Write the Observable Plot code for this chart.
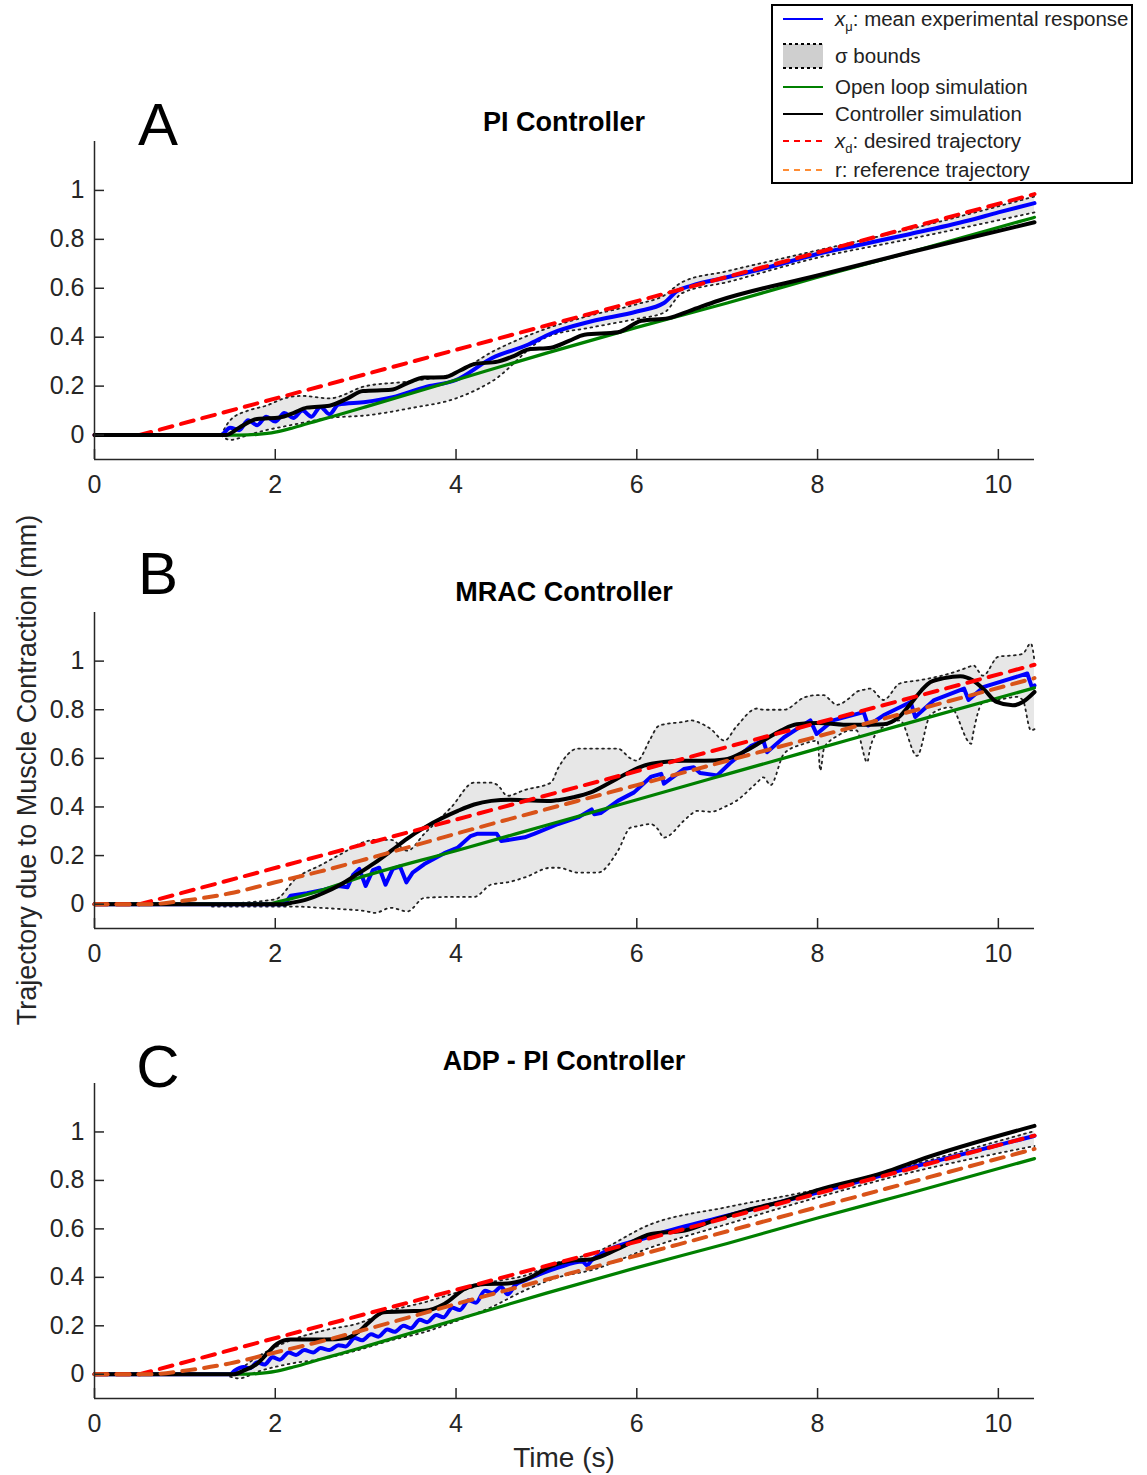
<!DOCTYPE html>
<html>
<head>
<meta charset="utf-8">
<script src="https://cdn.jsdelivr.net/npm/d3@7"></script>
<script src="https://cdn.jsdelivr.net/npm/@observablehq/plot@0.6"></script>
<style>
  html, body { margin: 0; padding: 0; background: #fff; }
  #wrap { position: relative; width: 1147px; height: 1475px; overflow: hidden; font-family: "Liberation Sans", Arial, sans-serif; }
  .panel { position: absolute; left: 0; }
  #overlay { position: absolute; left: 0; top: 0; pointer-events: none; }
</style>
</head>
<body>
<div id="wrap"></div>
<script>
// ---------- axes ----------
const xDomain = [0, 10.4];
const yDomain = [-0.1, 1.2];
const xTicks = [0, 2, 4, 6, 8, 10];
const yTicks = [0, 0.2, 0.4, 0.6, 0.8, 1];

// ---------- shared trajectories [t, value] ----------
const desired = [[0, 0], [0.5, 0], [10.4, 0.985]];
const reference = [[0, 0], [0.6, 0], [1.0, 0.015], [1.5, 0.045], [2.0, 0.09], [2.5, 0.135], [3.0, 0.185], [4.0, 0.29], [6.0, 0.49], [8.0, 0.69], [10.4, 0.93]];
const openLoopAC = [[0, 0], [1.6, 0], [1.8, 0.003], [2.0, 0.012], [2.2, 0.03], [2.5, 0.062], [2.72, 0.085], [3.0, 0.115], [4.0, 0.225], [5.0, 0.335], [6.0, 0.44], [7.0, 0.54], [8.0, 0.645], [9.0, 0.745], [10.4, 0.89]];
const openLoopB = [[0, 0], [1.9, 0], [2.05, 0.012], [2.17, 0.022], [2.4, 0.045], [2.91, 0.107], [4.0, 0.22], [5.0, 0.325], [6.0, 0.43], [7.0, 0.535], [8.0, 0.64], [9.0, 0.745], [10.4, 0.89]];

// ---------- Panel A: PI controller ----------
const piMean = [[0, 0], [1.4, 0], [1.5, 0.03], [1.6, 0.02], [1.7, 0.06], [1.8, 0.04], [1.9, 0.075], [2.0, 0.055], [2.1, 0.09], [2.2, 0.07], [2.3, 0.1], [2.4, 0.075], [2.5, 0.115], [2.6, 0.085], [2.7, 0.125], [3.0, 0.135], [3.3, 0.155], [3.65, 0.195], [4.0, 0.225], [4.4, 0.315], [4.8, 0.37], [5.05, 0.415], [5.5, 0.465], [6.0, 0.505], [6.3, 0.54], [6.45, 0.59], [6.6, 0.61], [7.0, 0.645], [7.5, 0.69], [8.0, 0.74], [8.5, 0.78], [9.0, 0.82], [9.67, 0.877], [10.0, 0.91], [10.4, 0.948]];
const piCtrl = [[0, 0], [1.45, 0], [1.6, 0.03], [1.8, 0.066], [2.05, 0.072], [2.2, 0.09], [2.35, 0.112], [2.6, 0.12], [2.8, 0.15], [2.97, 0.18], [3.28, 0.185], [3.45, 0.21], [3.65, 0.235], [3.87, 0.236], [4.05, 0.265], [4.2, 0.29], [4.46, 0.3], [4.65, 0.325], [4.8, 0.35], [5.05, 0.357], [5.25, 0.385], [5.42, 0.41], [5.79, 0.42], [6.05, 0.467], [6.35, 0.478], [6.6, 0.51], [6.9, 0.549], [8.0, 0.652], [9.0, 0.745], [10.4, 0.87]];
// [t, upper, lower]
const piSigma = [[1.4, 0, 0], [1.5, 0.06, -0.02], [1.7, 0.1, 0.0], [1.9, 0.12, 0.02], [2.1, 0.15, 0.035], [2.3, 0.16, 0.05], [2.6, 0.15, 0.07], [3.0, 0.2, 0.08], [3.5, 0.22, 0.11], [4.0, 0.255, 0.15], [4.4, 0.34, 0.22], [5.0, 0.435, 0.4], [5.5, 0.49, 0.44], [6.0, 0.535, 0.475], [6.3, 0.57, 0.5], [6.5, 0.625, 0.58], [7.0, 0.67, 0.625], [8.0, 0.755, 0.725], [9.0, 0.84, 0.8], [10.4, 0.975, 0.91]];

// ---------- Panel B: MRAC controller ----------
const mracMean = [[0, 0], [2.1, 0], [2.17, 0.035], [2.35, 0.045], [2.54, 0.06], [2.7, 0.075], [2.8, 0.07], [2.86, 0.12], [2.93, 0.145], [3.0, 0.075], [3.08, 0.14], [3.15, 0.15], [3.22, 0.08], [3.3, 0.145], [3.38, 0.155], [3.45, 0.09], [3.52, 0.13], [3.65, 0.165], [3.87, 0.21], [4.02, 0.233], [4.16, 0.28], [4.24, 0.29], [4.45, 0.29], [4.5, 0.26], [4.76, 0.275], [4.87, 0.29], [5.13, 0.33], [5.35, 0.357], [5.5, 0.39], [5.53, 0.37], [5.6, 0.375], [5.79, 0.425], [5.97, 0.46], [6.16, 0.525], [6.27, 0.536], [6.3, 0.496], [6.52, 0.556], [6.63, 0.563], [6.7, 0.54], [6.89, 0.53], [7.03, 0.58], [7.26, 0.65], [7.4, 0.673], [7.44, 0.625], [7.63, 0.687], [7.92, 0.756], [7.99, 0.7], [8.17, 0.756], [8.51, 0.79], [8.56, 0.735], [8.73, 0.777], [9.03, 0.832], [9.08, 0.77], [9.29, 0.84], [9.62, 0.887], [9.67, 0.84], [9.84, 0.894], [10.32, 0.949], [10.37, 0.894], [10.4, 0.9]];
const mracCtrl = [[0, 0], [2.1, 0], [2.17, 0.005], [2.35, 0.02], [2.54, 0.047], [2.72, 0.08], [2.91, 0.124], [3.1, 0.17], [3.28, 0.219], [3.46, 0.27], [3.65, 0.315], [3.85, 0.355], [4.02, 0.384], [4.2, 0.41], [4.39, 0.425], [4.6, 0.43], [4.76, 0.428], [5.05, 0.425], [5.13, 0.428], [5.3, 0.44], [5.49, 0.46], [5.7, 0.5], [5.9, 0.54], [6.08, 0.57], [6.3, 0.585], [6.52, 0.59], [6.75, 0.59], [6.97, 0.595], [7.2, 0.63], [7.4, 0.673], [7.6, 0.715], [7.77, 0.74], [8.0, 0.745], [8.36, 0.738], [8.6, 0.738], [8.73, 0.74], [8.9, 0.77], [9.03, 0.825], [9.15, 0.88], [9.25, 0.914], [9.4, 0.93], [9.58, 0.938], [9.72, 0.92], [9.85, 0.88], [9.98, 0.832], [10.16, 0.818], [10.27, 0.832], [10.4, 0.873]];
const mracSigma = [[1.3, 0.0, -0.01], [2.0, 0.02, -0.01], [2.24, 0.11, -0.01], [2.5, 0.16, -0.015], [2.72, 0.205, -0.02], [3.02, 0.26, -0.03], [3.1, 0.265, -0.036], [3.28, 0.265, -0.015], [3.46, 0.22, -0.03], [3.65, 0.29, 0.026], [3.95, 0.4, 0.03], [4.2, 0.5, 0.03], [4.39, 0.5, 0.081], [4.46, 0.49, 0.085], [4.57, 0.446, 0.09], [4.76, 0.47, 0.11], [5.05, 0.5, 0.15], [5.13, 0.56, 0.15], [5.35, 0.64, 0.13], [5.57, 0.64, 0.13], [5.79, 0.64, 0.219], [5.93, 0.6, 0.315], [6.0, 0.59, 0.32], [6.15, 0.68, 0.33], [6.23, 0.73, 0.31], [6.3, 0.74, 0.274], [6.52, 0.75, 0.343], [6.6, 0.756, 0.37], [6.67, 0.75, 0.384], [6.82, 0.72, 0.38], [6.97, 0.673, 0.4], [7.1, 0.73, 0.425], [7.33, 0.805, 0.5], [7.4, 0.8, 0.522], [7.48, 0.8, 0.49], [7.63, 0.8, 0.62], [7.85, 0.85, 0.66], [8.0, 0.86, 0.673], [8.03, 0.86, 0.55], [8.07, 0.86, 0.64], [8.14, 0.84, 0.673], [8.21, 0.82, 0.69], [8.36, 0.85, 0.715], [8.43, 0.873, 0.715], [8.55, 0.885, 0.584], [8.58, 0.887, 0.64], [8.69, 0.85, 0.72], [8.73, 0.84, 0.73], [8.91, 0.908, 0.756], [9.1, 0.92, 0.61], [9.25, 0.93, 0.78], [9.47, 0.95, 0.81], [9.7, 0.98, 0.66], [9.72, 0.983, 0.7], [9.83, 0.94, 0.83], [10.0, 1.018, 0.84], [10.2, 1.025, 0.853], [10.27, 1.03, 0.84], [10.36, 1.073, 0.715], [10.4, 1.0, 0.72]];

// ---------- Panel C: ADP - PI controller ----------
const adpMean = [[0, 0], [1.5, 0], [1.55, 0.015], [1.65, 0.03], [1.72, 0.025], [1.8, 0.05], [1.88, 0.04], [1.97, 0.07], [2.05, 0.06], [2.15, 0.09], [2.23, 0.08], [2.32, 0.1], [2.42, 0.09], [2.5, 0.108], [2.6, 0.1], [2.7, 0.12], [2.78, 0.115], [2.88, 0.15], [2.96, 0.14], [3.06, 0.165], [3.14, 0.155], [3.24, 0.185], [3.32, 0.175], [3.42, 0.2], [3.5, 0.19], [3.6, 0.225], [3.68, 0.215], [3.78, 0.245], [3.86, 0.235], [3.96, 0.275], [4.04, 0.265], [4.14, 0.305], [4.22, 0.295], [4.32, 0.345], [4.4, 0.335], [4.5, 0.36], [4.57, 0.33], [4.66, 0.37], [4.76, 0.387], [5.13, 0.44], [5.4, 0.465], [5.45, 0.45], [5.5, 0.47], [6.18, 0.572], [6.92, 0.647], [8.0, 0.75], [9.1, 0.86], [10.4, 0.984]];
const adpCtrl = [[0, 0], [1.54, 0], [1.65, 0.015], [1.8, 0.044], [1.92, 0.09], [2.02, 0.126], [2.17, 0.143], [2.54, 0.143], [2.8, 0.15], [2.92, 0.175], [3.02, 0.209], [3.2, 0.256], [3.46, 0.26], [3.65, 0.262], [3.87, 0.29], [4.1, 0.353], [4.32, 0.373], [4.57, 0.375], [4.76, 0.39], [5.05, 0.445], [5.31, 0.47], [5.49, 0.474], [5.79, 0.517], [6.16, 0.579], [6.53, 0.593], [6.9, 0.641], [7.27, 0.682], [7.64, 0.716], [8.0, 0.76], [8.74, 0.833], [9.1, 0.881], [10.4, 1.025]];
const adpSigma = [[1.5, 0.0, -0.01], [1.6, 0.02, -0.017], [1.8, 0.071, 0.01], [2.17, 0.14, 0.044], [2.54, 0.181, 0.065], [2.91, 0.209, 0.099], [3.28, 0.263, 0.14], [3.65, 0.297, 0.174], [4.02, 0.339, 0.222], [4.39, 0.38, 0.277], [4.76, 0.407, 0.346], [5.13, 0.462, 0.4], [5.5, 0.497, 0.43], [6.16, 0.62, 0.524], [7.0, 0.69, 0.62], [8.0, 0.763, 0.73], [9.0, 0.86, 0.83], [10.4, 1.004, 0.942]];

// ---------- colours ----------
const C_BLUE = "#0000ff", C_GREEN = "#008000", C_BLACK = "#000000", C_RED = "#ff0000", C_ORANGE = "#d95319";
const C_BAND = "#e7e7e7", C_AXIS = "#262626";

const W = 1147, ML = 94, MR = 113;

function panel({top, height, marginTop, marginBottom, mean, ctrl, sigma, open, withRef, meanCurve, ctrlOnTop}) {
  const innerH = height - marginTop - marginBottom;
  const innerW = W - ML - MR;
  const dash = "13,9";
  const ctrlMark = Plot.line(ctrl, {x: d => d[0], y: d => d[1], stroke: C_BLACK, strokeWidth: 4, curve: "monotone-x"});
  const marks = [
    Plot.areaY(sigma, {x: d => d[0], y1: d => d[2], y2: d => d[1], fill: C_BAND, curve: "monotone-x"}),
    Plot.line(sigma, {x: d => d[0], y: d => d[1], stroke: "#222", strokeWidth: 1.8, strokeDasharray: "1.8,4.2", curve: "monotone-x"}),
    Plot.line(sigma, {x: d => d[0], y: d => d[2], stroke: "#222", strokeWidth: 1.8, strokeDasharray: "1.8,4.2", curve: "monotone-x"}),
    Plot.line(mean, {x: d => d[0], y: d => d[1], stroke: C_BLUE, strokeWidth: 4, curve: meanCurve}),
    Plot.line(open, {x: d => d[0], y: d => d[1], stroke: C_GREEN, strokeWidth: 3.2, curve: "monotone-x"})
  ];
  if (!ctrlOnTop) marks.push(ctrlMark);
  marks.push(Plot.line(desired, {x: d => d[0], y: d => d[1], stroke: C_RED, strokeWidth: 4, strokeDasharray: dash}));
  if (withRef) marks.push(Plot.line(reference, {x: d => d[0], y: d => d[1], stroke: C_ORANGE, strokeWidth: 4, strokeDasharray: dash, curve: "monotone-x"}));
  if (ctrlOnTop) marks.push(ctrlMark);
  marks.push(
    Plot.ruleX([xDomain[0]], {stroke: C_AXIS, strokeWidth: 1.5}),
    Plot.ruleY([yDomain[0]], {stroke: C_AXIS, strokeWidth: 1.5}),
    Plot.tickX(xTicks, {x: d => d, stroke: C_AXIS, strokeWidth: 1.5, insetTop: innerH - 10}),
    Plot.tickY(yTicks, {y: d => d, stroke: C_AXIS, strokeWidth: 1.5, insetRight: innerW - 10}),
    Plot.axisX(xTicks, {tickSize: 0, tickPadding: 16, label: null, tickFormat: d => String(d), fill: C_AXIS}),
    Plot.axisY(yTicks, {tickSize: 0, tickPadding: 10, label: null, tickFormat: d => String(d), fill: C_AXIS})
  );
  const svg = Plot.plot({
    width: W, height, marginLeft: ML, marginRight: MR, marginTop, marginBottom,
    x: {domain: xDomain},
    y: {domain: yDomain},
    style: {fontFamily: "'Liberation Sans', Arial, sans-serif", fontSize: "25px", background: "transparent", overflow: "visible"},
    marks
  });
  svg.classList.add("panel");
  svg.style.top = top + "px";
  svg.style.position = "absolute";
  return svg;
}

const wrap = document.getElementById("wrap");
wrap.appendChild(panel({top: 0, height: 500, marginTop: 141, marginBottom: 41, mean: piMean, ctrl: piCtrl, sigma: piSigma, open: openLoopAC, withRef: false, meanCurve: "monotone-x", ctrlOnTop: true}));
wrap.appendChild(panel({top: 500, height: 470, marginTop: 112, marginBottom: 42, mean: mracMean, ctrl: mracCtrl, sigma: mracSigma, open: openLoopB, withRef: true, meanCurve: "linear", ctrlOnTop: false}));
wrap.appendChild(panel({top: 970, height: 505, marginTop: 113, marginBottom: 77, mean: adpMean, ctrl: adpCtrl, sigma: adpSigma, open: openLoopAC, withRef: true, meanCurve: "monotone-x", ctrlOnTop: false}));

// ---------- overlay: titles, letters, axis labels, legend ----------
const panelTitles = ["PI Controller", "MRAC Controller", "ADP - PI Controller"];
const panelLetters = ["A", "B", "C"];
const titleBaselines = [131, 601, 1070];
const letterBaselines = [145, 594, 1087];

const ov = d3.create("svg").attr("id", "overlay").attr("width", W).attr("height", 1475)
  .style("font-family", "'Liberation Sans', Arial, sans-serif");

panelTitles.forEach((t, i) => {
  ov.append("text").attr("x", 564).attr("y", titleBaselines[i]).attr("text-anchor", "middle")
    .attr("font-size", 27).attr("font-weight", "bold").attr("fill", "#000").text(t);
  ov.append("text").attr("x", 158).attr("y", letterBaselines[i]).attr("text-anchor", "middle")
    .attr("font-size", 60).attr("fill", "#000").text(panelLetters[i]);
});

ov.append("text").attr("transform", "translate(36,770) rotate(-90)").attr("text-anchor", "middle")
  .attr("font-size", 27).attr("fill", C_AXIS).text("Trajectory due to Muscle Contraction (mm)");
ov.append("text").attr("x", 564).attr("y", 1467).attr("text-anchor", "middle")
  .attr("font-size", 28).attr("fill", C_AXIS).text("Time (s)");

// legend
const lg = ov.append("g");
lg.append("rect").attr("x", 772).attr("y", 5).attr("width", 360).attr("height", 178)
  .attr("fill", "#fff").attr("stroke", "#000").attr("stroke-width", 2);
const lx1 = 783, lx2 = 823, tx = 835;
const legendRows = [
  {y: 19, kind: "line", color: C_BLUE, dash: null},
  {y: 56, kind: "band"},
  {y: 87, kind: "line", color: C_GREEN, dash: null},
  {y: 114, kind: "line", color: C_BLACK, dash: null},
  {y: 141, kind: "line", color: C_RED, dash: "6,5"},
  {y: 170, kind: "line", color: "#ff8c33", dash: "6,5"}
];
legendRows.forEach(r => {
  if (r.kind === "line") {
    lg.append("line").attr("x1", lx1).attr("x2", lx2).attr("y1", r.y).attr("y2", r.y)
      .attr("stroke", r.color).attr("stroke-width", 1.8).attr("stroke-dasharray", r.dash);
  } else {
    lg.append("rect").attr("x", lx1).attr("y", r.y - 12).attr("width", lx2 - lx1).attr("height", 24).attr("fill", "#cfcfcf");
    [r.y - 12, r.y + 12].forEach(yy => lg.append("line").attr("x1", lx1).attr("x2", lx2).attr("y1", yy).attr("y2", yy)
      .attr("stroke", "#000").attr("stroke-width", 1.8).attr("stroke-dasharray", "3,3"));
  }
});
function legendText(y) {
  return lg.append("text").attr("x", tx).attr("y", y).attr("font-size", 20.5).attr("fill", "#222");
}
let t1 = legendText(26);
t1.append("tspan").attr("font-style", "italic").text("x");
t1.append("tspan").attr("font-size", 13).attr("dy", 5).text("μ");
t1.append("tspan").attr("dy", -5).text(": mean experimental response");
legendText(63).text("σ bounds");
legendText(94).text("Open loop simulation");
legendText(121).text("Controller simulation");
let t5 = legendText(148);
t5.append("tspan").attr("font-style", "italic").text("x");
t5.append("tspan").attr("font-size", 13).attr("dy", 5).text("d");
t5.append("tspan").attr("dy", -5).text(": desired trajectory");
legendText(177).text("r: reference trajectory");

wrap.appendChild(ov.node());
</script>
</body>
</html>
